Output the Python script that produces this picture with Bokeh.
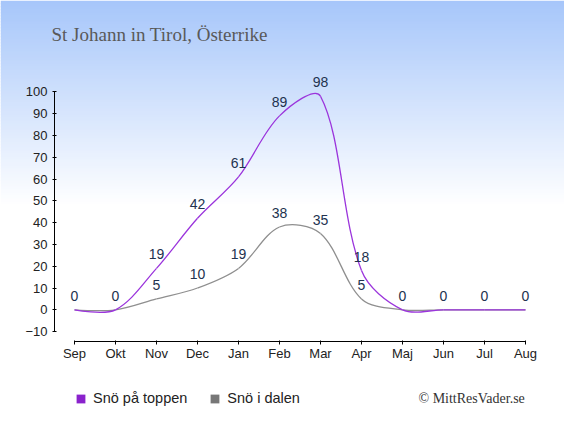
import math
import numpy as np
from bokeh.plotting import figure
from bokeh.models import (Range1d, FixedTicker, BoxAnnotation, Label, Legend,
                          LegendItem, ColumnDataSource)
from bokeh.core.properties import value
from bokeh.embed import file_html
from bokeh.resources import INLINE

# ---------------- data ----------------
months = ["Sep", "Okt", "Nov", "Dec", "Jan", "Feb", "Mar", "Apr", "Maj", "Jun", "Jul", "Aug"]
snow_top = [0, 0, 19, 42, 61, 89, 98, 18, 0, 0, 0, 0]
snow_valley = [0, 0, 5, 10, 19, 38, 35, 5, 0, 0, 0, 0]
y_ticks = [-10, 0, 10, 20, 30, 40, 50, 60, 70, 80, 90, 100]
title_text = "St Johann in Tirol, Österrike"
series_names = ["Snö på toppen", "Snö i dalen"]
copyright_text = "© MittResVader.se"

# ---------------- styles / layout ----------------
line_colors = ["#9b35dc", "#8f8f8f"]
legend_colors = ["#8a22cc", "#777777"]
label_color = "#22324f"
sans = "Liberation Sans"
serif = "Liberation Serif"

W, H = 564, 419
PX_X = 41.0          # pixels per month
PX_Y = 2.179         # pixels per unit of snow depth
X_ORIGIN = 74.0      # canvas x of first month
Y_ORIGIN = 309.3     # canvas y of zero
AXIS_LEFT_PX = 54.0  # canvas x of the y axis
AXIS_BOTTOM_PX = 340.5  # canvas y of the x axis

X0 = -X_ORIGIN / PX_X
X1 = X0 + W / PX_X
Y1 = Y_ORIGIN / PX_Y
Y0 = Y1 - H / PX_Y


def cx(px):
    return X0 + px / PX_X


def cy(py):
    return Y1 - py / PX_Y


p = figure(width=W, height=H, x_range=Range1d(X0, X1), y_range=Range1d(Y0, Y1),
           output_backend="svg", toolbar_location=None,
           min_border_left=0, min_border_right=0, min_border_top=0,
           min_border_bottom=0)
p.outline_line_color = None
p.background_fill_color = "white"
p.border_fill_color = "white"
p.xgrid.visible = False
p.ygrid.visible = False

# background gradient
g_top = (166, 198, 250)
g_end = 205.0
step = 3
for k in range(0, int(g_end / step) + 1):
    t_px = k * step
    f = min((t_px + step / 2.0) / g_end, 1.0)
    col = tuple(int(round(a + (255 - a) * f)) for a in g_top)
    p.add_layout(BoxAnnotation(top=cy(t_px), bottom=cy(t_px + step + 0.7),
                               fill_color="#%02x%02x%02x" % col, fill_alpha=1.0,
                               line_color=None, level="underlay"))

# axes (placed inside the full-canvas frame)
p.xaxis.fixed_location = cy(AXIS_BOTTOM_PX)
p.yaxis.fixed_location = cx(AXIS_LEFT_PX)
p.xaxis.ticker = FixedTicker(ticks=list(range(len(months))))
p.xaxis.major_label_overrides = {i: m for i, m in enumerate(months)}
p.xaxis.bounds = (0, len(months) - 1)
p.xaxis.major_tick_in = 1
p.xaxis.major_tick_out = 3
p.xaxis.major_label_standoff = 2
p.yaxis.ticker = FixedTicker(ticks=y_ticks)
p.yaxis.bounds = (y_ticks[0], y_ticks[-1])
p.yaxis.major_tick_in = 2
p.yaxis.major_tick_out = 2
p.yaxis.major_label_standoff = 5
for ax in (p.xaxis, p.yaxis):
    ax.minor_tick_line_color = None
    ax.axis_line_color = "black"
    ax.major_tick_line_color = "black"
    ax.major_label_text_font = sans
    ax.major_label_text_font_size = "13px"
    ax.major_label_text_color = "#222222"

# smooth curve control points (pixel-aware)


def spline(xs, ys, t=0.33):
    n = len(xs)
    cl = [(xs[i], ys[i]) for i in range(n)]
    cr = list(cl)
    for i in range(1, n - 1):
        d01 = math.hypot((xs[i] - xs[i - 1]) * PX_X, (ys[i] - ys[i - 1]) * PX_Y)
        d12 = math.hypot((xs[i + 1] - xs[i]) * PX_X, (ys[i + 1] - ys[i]) * PX_Y)
        fa = t * d01 / (d01 + d12)
        fb = t * d12 / (d01 + d12)
        vx = xs[i + 1] - xs[i - 1]
        vy = ys[i + 1] - ys[i - 1]
        cl[i] = (xs[i] - fa * vx, ys[i] - fa * vy)
        cr[i] = (xs[i] + fb * vx, ys[i] + fb * vy)
    return ColumnDataSource(dict(
        x0=xs[:-1], y0=ys[:-1], x1=xs[1:], y1=ys[1:],
        cx0=[c[0] for c in cr[:-1]], cy0=[c[1] for c in cr[:-1]],
        cx1=[c[0] for c in cl[1:]], cy1=[c[1] for c in cl[1:]]))


xs = list(range(len(months)))
for vals, col in ((snow_valley, line_colors[1]), (snow_top, line_colors[0])):
    p.bezier(x0="x0", y0="y0", x1="x1", y1="y1", cx0="cx0", cy0="cy0",
             cx1="cx1", cy1="cy1", source=spline(xs, vals),
             line_color=col, line_width=1.3)

# value labels
p.text(x=xs, y=snow_top, text=[str(v) for v in snow_top], text_align="center",
       text_baseline="alphabetic", y_offset=-14, text_font=value(sans),
       text_font_size="14px", text_color=label_color)
vi = [i for i in xs if snow_valley[i] != snow_top[i]]
p.text(x=[xs[i] for i in vi], y=[snow_valley[i] for i in vi],
       text=[str(snow_valley[i]) for i in vi], text_align="center",
       text_baseline="alphabetic", y_offset=-14, text_font=value(sans),
       text_font_size="14px", text_color=label_color)

# legend
items = []
for name, col in zip(series_names, legend_colors):
    src = ColumnDataSource(dict(l=[np.nan], r=[np.nan], t=[np.nan], b=[np.nan]))
    r = p.quad(left="l", right="r", top="t", bottom="b", source=src,
               fill_color=col, line_color=None)
    items.append(LegendItem(label=name, renderers=[r]))
legend = Legend(items=items, location=(75, 13), orientation="horizontal",
                glyph_width=11, glyph_height=11, label_height=11,
                label_standoff=7, spacing=22, padding=0, margin=0,
                border_line_color=None, background_fill_alpha=0,
                label_text_font=sans, label_text_font_size="14.5px",
                label_text_color="#222222")
p.add_layout(legend)

# title and credit
p.add_layout(Label(x=51, y=H - 34, x_units="screen", y_units="screen", text=title_text,
                   text_font=serif, text_font_size="19px", text_color="#595959",
                   text_baseline="alphabetic"))
p.add_layout(Label(x=418, y=H - 398, x_units="screen", y_units="screen",
                   text=copyright_text, text_font=serif, text_font_size="14px",
                   text_color="#333333", text_baseline="alphabetic"))

open("out.html", "w").write(file_html(p, INLINE))
